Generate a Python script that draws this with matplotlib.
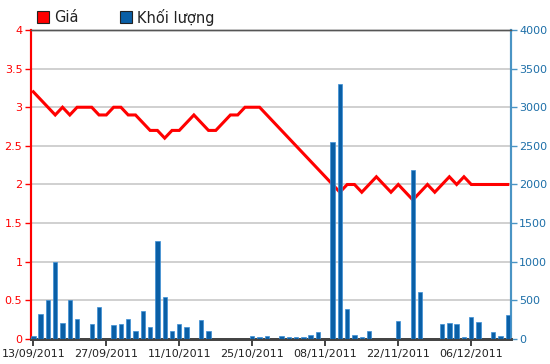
import numpy as np
import matplotlib
matplotlib.use("Agg")
import matplotlib.pyplot as plt
from matplotlib.patches import Rectangle

# giá (nghìn đồng) theo phiên giao dịch
price = [3.2, 3.1, 3.0, 2.9, 3.0, 2.9, 3.0, 3.0, 3.0, 2.9,
         2.9, 3.0, 3.0, 2.9, 2.9, 2.8, 2.7, 2.7, 2.6, 2.7,
         2.7, 2.8, 2.9, 2.8, 2.7, 2.7, 2.8, 2.9, 2.9, 3.0,
         3.0, 3.0, 2.9, 2.8, 2.7, 2.6, 2.5, 2.4, 2.3, 2.2,
         2.1, 2.0, 1.9, 2.0, 2.0, 1.9, 2.0, 2.1, 2.0, 1.9,
         2.0, 1.9, 1.8, 1.9, 2.0, 1.9, 2.0, 2.1, 2.0, 2.1,
         2.0, 2.0, 2.0, 2.0, 2.0, 2.0]

# khối lượng
volume = [40, 330, 500, 1000, 210, 500, 265, 0, 200, 420,
          0, 180, 195, 265, 105, 360, 150, 1270, 550, 105,
          200, 150, 0, 250, 105, 0, 0, 0, 0, 0,
          40, 20, 40, 0, 40, 20, 20, 20, 55, 90,
          0, 2550, 3300, 390, 55, 20, 100, 0, 0, 0,
          230, 0, 2190, 610, 0, 0, 190, 210, 190, 20,
          290, 225, 0, 85, 35, 310]

tick_labels = ["13/09/2011", "27/09/2011", "11/10/2011", "25/10/2011",
               "08/11/2011", "22/11/2011", "06/12/2011"]

red = "#ff0000"
blue_bar = "#0a5fa6"
blue_axis = "#4a94c4"
blue_text = "#1d6fa8"

x = np.arange(len(price))

fig = plt.figure(figsize=(5.5, 3.64), dpi=100)
ax = fig.add_axes([0.0558, 0.0687, 0.8727, 0.8489])
ax2 = ax.twinx()

ax.plot(x, price, color=red, lw=2.2, solid_joinstyle="miter", zorder=3)
ax2.bar(x, volume, width=0.6, color=blue_bar, edgecolor="#3b8fd6", lw=0.5, zorder=3)

ax.set_ylim(0, 4)
ax2.set_ylim(0, 4000)
ax.set_xlim(-0.36, 65.4)
ax.set_yticks(np.arange(0, 4.01, 0.5))
ax.set_yticklabels(["0", "0.5", "1", "1.5", "2", "2.5", "3", "3.5", "4"])
ax2.set_yticks(np.arange(0, 4001, 500))
ax.yaxis.grid(True, color="#c8c8c8", lw=1.2)
ax.set_axisbelow(True)

ax.set_xticks(np.arange(0, 61, 10))
ax.set_xticklabels(tick_labels)

ax.tick_params(axis="x", colors="#222222", labelsize=8, length=5, width=1.2, pad=2)
ax.tick_params(axis="y", colors=red, labelsize=8, length=4, width=1, pad=2)
ax2.tick_params(axis="y", colors=blue_axis, labelcolor=blue_text, labelsize=8,
                length=4, width=1, pad=2)

for a in (ax, ax2):
    a.spines["left"].set_color(red)
    a.spines["left"].set_linewidth(1.5)
    a.spines["right"].set_color(blue_axis)
    a.spines["right"].set_linewidth(1.5)
    a.spines["bottom"].set_color("#444444")
    a.spines["bottom"].set_linewidth(2)
    a.spines["top"].set_color("#555555")
    a.spines["top"].set_linewidth(1)

# chú thích phía trên
fig.patches.append(Rectangle((37 / 550, 1 - 23 / 364), 12 / 550, 12 / 364,
                             transform=fig.transFigure, facecolor=red,
                             edgecolor="#222222", lw=0.8))
fig.text(54 / 550, 1 - 17 / 364, "Giá", fontsize=10.5, va="center", color="#222222")
fig.patches.append(Rectangle((120 / 550, 1 - 23 / 364), 12 / 550, 12 / 364,
                             transform=fig.transFigure, facecolor=blue_bar,
                             edgecolor="#222222", lw=0.8))
fig.text(137 / 550, 1 - 17 / 364, "Khối lượng", fontsize=10.5, va="center", color="#222222")

fig.savefig("out.png", dpi=100)
